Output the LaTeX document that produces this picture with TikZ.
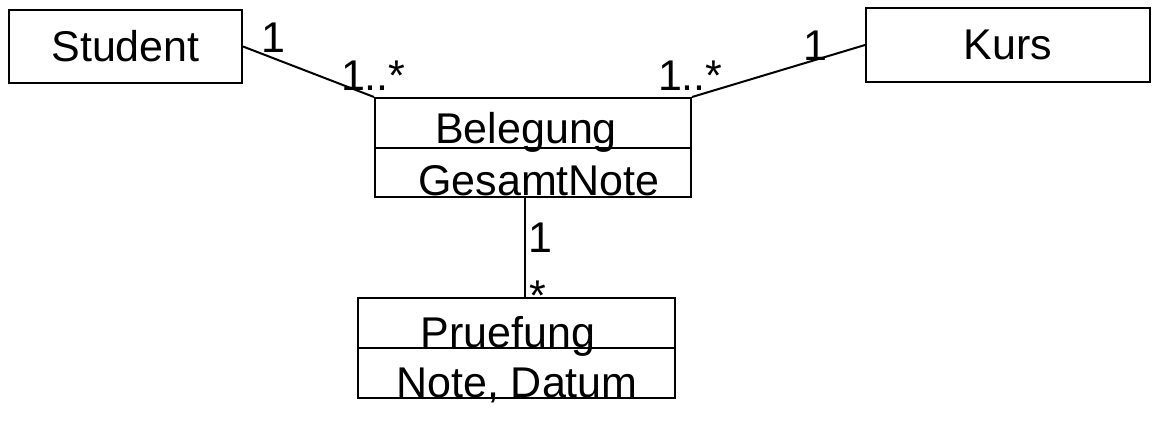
\documentclass[tikz,border=0pt]{standalone}
\usepackage{fontspec}
\setmainfont{Liberation Sans}
\usetikzlibrary{calc}

\begin{document}
\begin{tikzpicture}[x=1pt, y=-1pt, line width=2pt,
		box/.style={draw, rectangle, inner sep=0pt, font=\fontsize{43}{50}\selectfont},
		txt/.style={anchor=base, inner sep=0pt, font=\fontsize{43}{50}\selectfont},
		mult/.style={anchor=base west, inner sep=0pt, font=\fontsize{43}{50}\selectfont}]
		\useasboundingbox (0,0) rectangle (1160,426);
		%classes
		\node[box, minimum width=233pt, minimum height=73pt] (student) at (125.5,46.5) {Student};
		\node[box, minimum width=284pt, minimum height=74pt] (kurs) at (1008,45) {Kurs};
		\node[box, minimum width=316pt, minimum height=99pt] (belegung) at (533,147.5) {};
		\node[box, minimum width=317pt, minimum height=100pt] (pruefung) at (516.5,348) {};
		\draw (belegung.west |- 0,148) -- (belegung.east |- 0,148);
		\draw (pruefung.west |- 0,348) -- (pruefung.east |- 0,348);
		\node[txt] (belname) at (526,143) {Belegung};
		\node[txt] (belattr) at (539,195) {GesamtNote};
		\node[txt] (prname) at (508,347) {Pruefung};
		\node[txt] (prattr) at (517,397) {Note, Datum};
		%associations
		\draw (student.east) -- (belegung.north west);
		\draw (kurs.west) -- (belegung.north east);
		\draw ([xshift=-8pt]belegung.south) -- ([xshift=-8pt]belegung.south |- pruefung.north);
		\node[mult] (ms) at (260,52) {1};
		\node[mult] (msb) at (340,90) {1..*};
		\node[mult] (mkb) at (657,90) {1..*};
		\node[mult] (mk) at (802,60) {1};
		\node[mult] (mbp) at (527,252) {1};
		\node[mult] (mpb) at (528,310) {*};
		%\path[-,font=\scriptsize]
\end{tikzpicture}
\end{document}
